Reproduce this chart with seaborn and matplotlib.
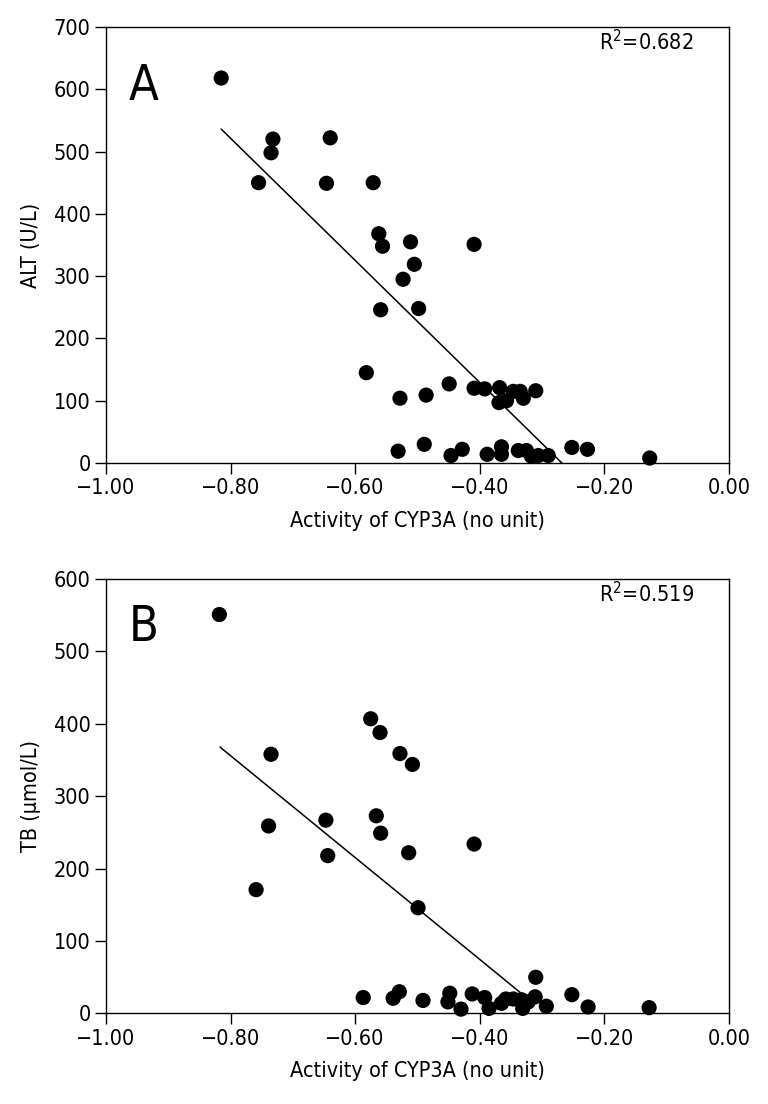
import numpy as np
import pandas as pd
import seaborn as sns
import matplotlib.pyplot as plt

# Panel A: ALT vs CYP3A activity
alt_x = [-0.815, -0.732, -0.735, -0.755, -0.640, -0.646, -0.571, -0.562, -0.556, -0.511,
         -0.505, -0.523, -0.559, -0.498, -0.409,
         -0.582, -0.528, -0.486, -0.449, -0.409, -0.392, -0.368, -0.346, -0.335, -0.310,
         -0.369, -0.357, -0.330,
         -0.531, -0.489, -0.446, -0.428, -0.388, -0.365, -0.365, -0.338, -0.325, -0.317,
         -0.306, -0.290, -0.252, -0.227, -0.127]
alt_y = [618, 520, 498, 450, 522, 449, 450, 368, 348, 355,
         319, 295, 246, 248, 351,
         145, 104, 109, 127, 120, 119, 121, 115, 115, 116,
         97, 100, 104,
         19, 30, 12, 22, 14, 26, 14, 20, 20, 11,
         12, 12, 25, 22, 8]
alt_fit_x = [-0.815, -0.268]
alt_fit_y = [536, 0]
alt_r2 = '0.682'

# Panel B: TB vs CYP3A activity
tb_x = [-0.818, -0.735, -0.739, -0.759, -0.647, -0.644, -0.575, -0.560, -0.566, -0.559,
        -0.528, -0.508, -0.514, -0.409, -0.499,
        -0.587, -0.539, -0.529, -0.491, -0.448, -0.451, -0.430, -0.412, -0.392, -0.385,
        -0.365, -0.358, -0.346, -0.333, -0.331, -0.322, -0.311, -0.310, -0.293, -0.252,
        -0.226, -0.128]
tb_y = [551, 358, 259, 171, 267, 218, 407, 388, 273, 249,
        359, 344, 222, 234, 146,
        22, 21, 30, 18, 28, 16, 6, 27, 22, 7,
        14, 20, 20, 19, 7, 16, 23, 50, 10, 26,
        9, 8]
tb_fit_x = [-0.817, -0.335]
tb_fit_y = [368, 29]
tb_r2 = '0.519'

x_ticks = [-1.0, -0.8, -0.6, -0.4, -0.2, 0.0]
x_tick_labels = ['\u22121.00', '\u22120.80', '\u22120.60', '\u22120.40', '\u22120.20', '0.00']
alt_ticks = [0, 100, 200, 300, 400, 500, 600, 700]
tb_ticks = [0, 100, 200, 300, 400, 500, 600]

sns.set_style('ticks')
plt.rcParams['font.family'] = ['DejaVu Sans']
plt.rcParams['font.stretch'] = 'condensed'
plt.rcParams['mathtext.default'] = 'regular'
for key in ['text.color', 'axes.labelcolor', 'xtick.color', 'ytick.color', 'axes.edgecolor']:
    plt.rcParams[key] = 'black'

fig = plt.figure(figsize=(7.68, 11.04), dpi=100)
ax_a = fig.add_axes([0.138, 0.5806, 0.811, 0.395])
ax_b = fig.add_axes([0.138, 0.0820, 0.811, 0.3935])

panels = [
    (ax_a, alt_x, alt_y, alt_fit_x, alt_fit_y, alt_r2, 'A', 0.92, 'ALT (U/L)', alt_ticks),
    (ax_b, tb_x, tb_y, tb_fit_x, tb_fit_y, tb_r2, 'B', 0.945, 'TB (\u03bcmol/L)', tb_ticks),
]

for ax, xs, ys, fx, fy, r2, letter, letter_y, ylabel, yticks in panels:
    df = pd.DataFrame({'x': xs, 'y': ys})
    fit = pd.DataFrame({'x': fx, 'y': fy})
    sns.lineplot(data=fit, x='x', y='y', ax=ax, color='black', linewidth=1.1, zorder=2)
    sns.scatterplot(data=df, x='x', y='y', ax=ax, color='black', s=120,
                    edgecolor='none', zorder=3, clip_on=False)

    ax.set_xlim(-1.0, 0.0)
    ax.set_ylim(yticks[0], yticks[-1])
    ax.set_xticks(x_ticks)
    ax.set_xticklabels(x_tick_labels)
    ax.set_yticks(yticks)
    ax.tick_params(direction='out', length=8, width=1, labelsize=15.5, pad=3, color='black')
    for side in ['left', 'bottom', 'top', 'right']:
        ax.spines[side].set_visible(True)
        ax.spines[side].set_linewidth(1.0)
        ax.spines[side].set_color('black')

    ax.set_xlabel('Activity of CYP3A (no unit)', fontsize=15.5, labelpad=9)
    ax.set_ylabel(ylabel, fontsize=15.5, labelpad=9)

    ax.text(0.037, letter_y, letter, transform=ax.transAxes, fontsize=35,
            ha='left', va='top')
    ax.text(0.944, 0.966, 'R$^2$=' + r2, transform=ax.transAxes, fontsize=15.5,
            ha='right', va='center')

fig.savefig('out.png', dpi=100, facecolor='white')
